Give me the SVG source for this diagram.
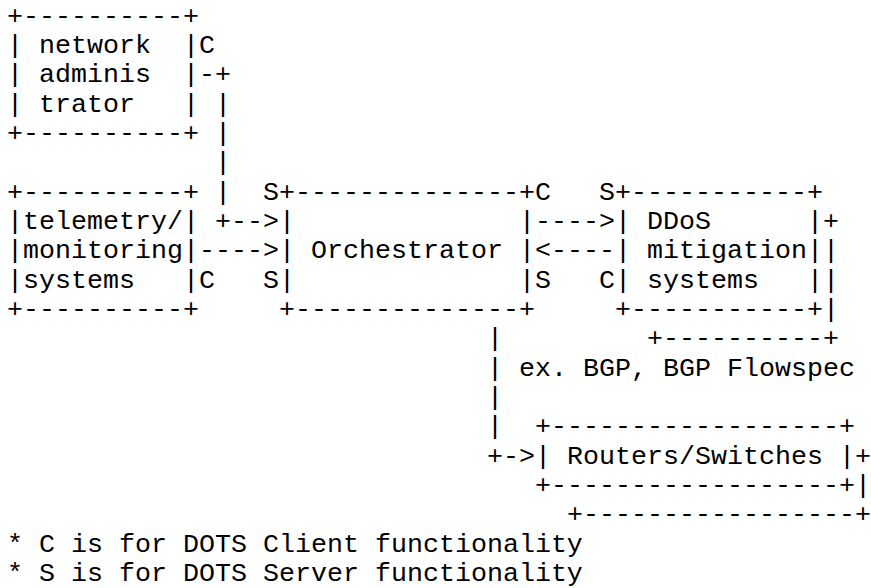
<svg xmlns="http://www.w3.org/2000/svg" width="871" height="588" viewBox="0 0 871 588" xml:space="preserve">
  <style>
    text { font-family: "Liberation Mono", "Courier New", monospace; font-size: 26.667px; fill: #000; white-space: pre; }
  </style>
  <!-- character grid: column c at x = 7 + 16*c, row r baseline at 23.5 + 29.333*(r-1) -->
  <rect width="871" height="588" fill="#fff"/>

  <g id="network-administrator">
    <text x="7" y="23.5">+----------+</text>
    <text x="7" y="52.83">| network  |</text>
    <text x="7" y="82.17">| adminis  |</text>
    <text x="7" y="111.5">| trator   |</text>
    <text x="7" y="140.83">+----------+</text>
  </g>

  <g id="telemetry-monitoring">
    <text x="7" y="199.5">+----------+</text>
    <text x="7" y="228.83">|telemetry/|</text>
    <text x="7" y="258.17">|monitoring|</text>
    <text x="7" y="287.5">|systems   |</text>
    <text x="7" y="316.83">+----------+</text>
  </g>

  <g id="orchestrator">
    <text x="279" y="199.5">+--------------+</text>
    <text x="279" y="228.83">|              |</text>
    <text x="279" y="258.17">| Orchestrator |</text>
    <text x="279" y="287.5">|              |</text>
    <text x="279" y="316.83">+--------------+</text>
  </g>

  <g id="ddos-mitigation">
    <text x="615" y="199.5">+-----------+</text>
    <text x="615" y="228.83">| DDoS      |+</text>
    <text x="615" y="258.17">| mitigation||</text>
    <text x="615" y="287.5">| systems   ||</text>
    <text x="615" y="316.83">+-----------+|</text>
    <text x="647" y="346.17">+----------+</text>
  </g>

  <g id="routers-switches">
    <text x="535" y="434.17">+------------------+</text>
    <text x="535" y="463.5">| Routers/Switches |+</text>
    <text x="535" y="492.83">+------------------+|</text>
    <text x="567" y="522.17">+-----------------+</text>
  </g>

  <g id="connectors">
    <!-- administrator (C) to orchestrator (S) -->
    <text x="199" y="52.83">C</text>
    <text x="199" y="82.17">-+</text>
    <text x="215" y="111.5">|</text>
    <text x="215" y="140.83">|</text>
    <text x="215" y="170.17">|</text>
    <text x="215" y="199.5">|</text>
    <text x="263" y="199.5">S</text>
    <text x="215" y="228.83">+--&gt;</text>
    <!-- telemetry (C) to orchestrator (S) -->
    <text x="199" y="258.17">----&gt;</text>
    <text x="199" y="287.5">C   S</text>
    <!-- orchestrator and mitigation systems, both directions -->
    <text x="535" y="199.5">C   S</text>
    <text x="535" y="228.83">----&gt;</text>
    <text x="535" y="258.17">&lt;----</text>
    <text x="535" y="287.5">S   C</text>
    <!-- orchestrator to routers/switches -->
    <text x="487" y="346.17">|</text>
    <text x="487" y="375.5">|</text>
    <text x="487" y="404.83">|</text>
    <text x="487" y="434.17">|</text>
    <text x="487" y="463.5">+-&gt;</text>
    <text x="519" y="375.5">ex. BGP, BGP Flowspec</text>
  </g>

  <g id="legend">
    <text x="7" y="551.5">* C is for DOTS Client functionality</text>
    <text x="7" y="580.83">* S is for DOTS Server functionality</text>
  </g>
</svg>
